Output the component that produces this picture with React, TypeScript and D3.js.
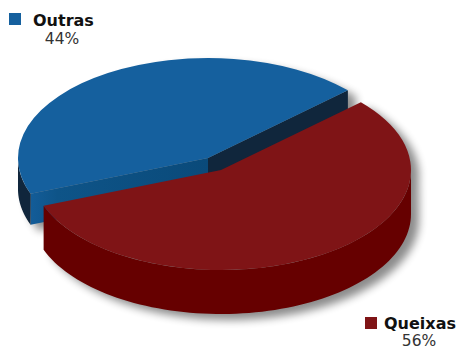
import React from "react";
import * as d3 from "d3";

// Share of complaints versus everything else
const categories = ["Outras", "Queixas"];
const shares = [44, 56];
const faceColors = ["#15609e", "#7f1416"];
const rimColors = ["#10263c", "#660000"];

const W = 457;
const H = 350;
const rx = 190;
const ry = 100;
const centers: [number, number][] = [[208, 158], [221, 170]];
const depths = [31, 44];
const firstAngle = (249 * Math.PI) / 180;
const TAU = 2 * Math.PI;

const pie = d3
  .pie<number>()
  .sort(null)
  .startAngle(firstAngle)
  .endAngle(firstAngle + TAU);
const slices = pie(shares);
const faceArc = d3.arc<d3.PieArcDatum<number>>().innerRadius(0).outerRadius(rx);
const toPath = d3.line();

const rim = (c: [number, number], a: number, dy = 0): [number, number] => [
  c[0] + rx * Math.sin(a),
  c[1] - ry * Math.cos(a) + dy,
];

// Vertical side of the disc, limited to the near half of the ellipse
function outerWall(i: number) {
  const c = centers[i];
  const s = slices[i];
  const turn = s.startAngle >= TAU ? TAU : 0;
  const from = Math.max(s.startAngle - turn, Math.PI / 2);
  const to = Math.min(s.endAngle - turn, (3 * Math.PI) / 2);
  const steps = d3.range(0, 81).map((k) => from + ((to - from) * k) / 80);
  const top = steps.map((a) => rim(c, a));
  const bottom = steps.map((a) => rim(c, a, depths[i])).reverse();
  return toPath([...top, ...bottom]) + "Z";
}

// Flat wall exposed where a slice is cut along a radius
function cutWall(i: number, a: number) {
  const c = centers[i];
  const d = depths[i];
  const p = rim(c, a);
  return toPath([c, p, [p[0], p[1] + d], [c[0], c[1] + d]]) + "Z";
}

function Disc({ shadow = false }: { shadow?: boolean }) {
  const tint = (color: string) => (shadow ? "#000" : color);
  return (
    <>
      {categories.map((name, i) => (
        <g key={name}>
          {i === 0 && (
            <>
              <path d={cutWall(0, slices[0].endAngle)} fill={tint("#10263c")} />
              <path d={cutWall(0, slices[0].startAngle)} fill={shadow ? "#000" : "url(#cutFace)"} />
            </>
          )}
          <path d={outerWall(i)} fill={tint(rimColors[i])} />
          <path
            d={faceArc(slices[i]) ?? ""}
            transform={`translate(${centers[i][0]},${centers[i][1]}) scale(1,${ry / rx})`}
            fill={tint(faceColors[i])}
          />
        </g>
      ))}
    </>
  );
}

function Legend({ i, sx, sy, tx, ty, px, py }: Record<string, number>) {
  return (
    <g fontFamily="'DejaVu Sans', Verdana, sans-serif">
      <rect x={sx} y={sy} width={12} height={12} fill={faceColors[i]} />
      <text x={tx} y={ty} fontSize={16} fontWeight="bold" fill="#111">
        {categories[i]}
      </text>
      <text x={px} y={py} fontSize={15.5} textAnchor="middle" fill="#333">
        {shares[i]}%
      </text>
    </g>
  );
}

export default function App() {
  return (
    <svg
      width={W}
      height={H}
      viewBox={`0 0 ${W} ${H}`}
      style={{ position: "absolute", left: 0, top: 0, background: "#fff" }}
    >
      <defs>
        <filter id="soft" x="-20%" y="-20%" width="140%" height="140%">
          <feGaussianBlur stdDeviation="4" />
        </filter>
        <linearGradient id="cutFace" gradientUnits="userSpaceOnUse" x1="31" y1="0" x2="208" y2="0">
          <stop offset="0" stopColor="#135c98" />
          <stop offset="0.15" stopColor="#0e5488" />
          <stop offset="1" stopColor="#0a4a7a" />
        </linearGradient>
      </defs>
      <g filter="url(#soft)" opacity={0.45} transform="translate(8,6)">
        <Disc shadow />
      </g>
      <Disc />
      <Legend i={0} sx={9} sy={13} tx={33} ty={26} px={62} py={44} />
      <Legend i={1} sx={365} sy={317} tx={384} ty={329} px={419} py={346} />
    </svg>
  );
}
